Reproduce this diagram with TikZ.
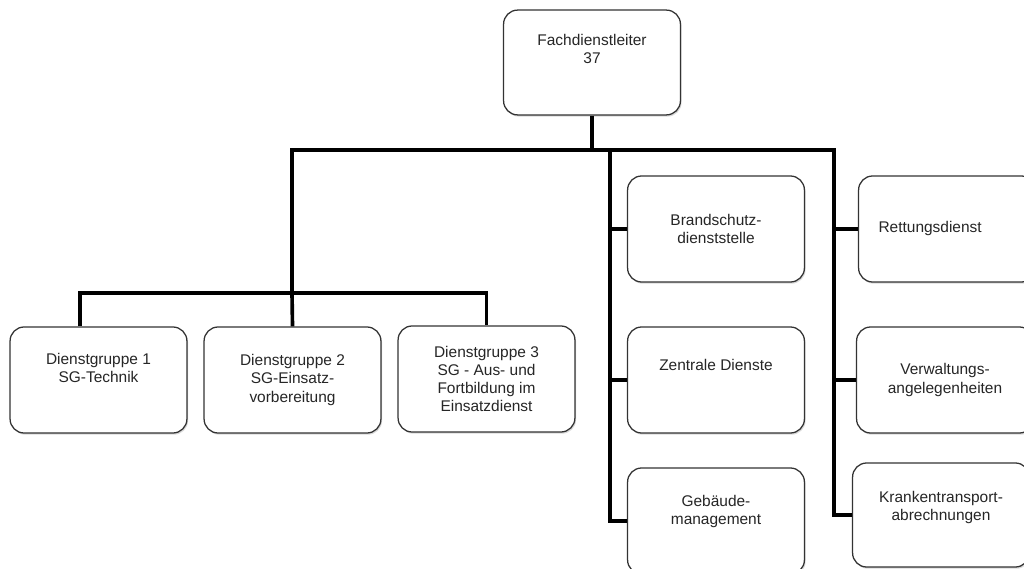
\documentclass[tikz,border=0pt]{standalone}
\usepackage{fontspec}
\setmainfont{Liberation Sans}
\usepackage{xcolor}
\usepackage{tikz}
\usetikzlibrary{shapes,positioning,shadows}

\begin{document}
\begin{tikzpicture}[
    x=0.025cm, y=-0.025cm,
    box/.style={draw=black!80, line width=0.9pt, rounded corners=10pt, fill=white,
        minimum width=4.42cm, minimum height=2.65cm, align=center, text=black!85,
        font=\fontsize{11}{13}\selectfont,
        drop shadow={shadow xshift=0.8pt, shadow yshift=-1.2pt, opacity=0.3}},
    conn/.style={line width=2.6pt, black}
]
    \useasboundingbox[fill=white] (0,0) rectangle (1024,569);

    % Head
    \node[box, minimum height=2.62cm, text depth=19pt] (leiter) at (592,62.5) {Fachdienstleiter\\37};

    % Dienstgruppen
    \node[box, text depth=17pt] (dg1) at (98.5,380) {Dienstgruppe 1\\SG-Technik};
    \node[box] (dg2) at (292.5,380) {Dienstgruppe 2\\SG-Einsatz-\\vorbereitung};
    \node[box] (dg3) at (486.5,379) {Dienstgruppe 3\\SG - Aus- und\\Fortbildung im\\Einsatzdienst};

    % Middle column
    \node[box] (brand) at (716,229) {Brandschutz-\\dienststelle};
    \node[box, text depth=21pt] (zentral) at (716,380) {Zentrale Dienste};
    \node[box, text depth=16pt] (gebaeude) at (716,521) {Gebäude-\\management};

    % Right column
    \node[box] (rettung) at (947,229) {Rettungsdienst\hspace*{24pt}};
    \node[box] (verwaltung) at (945,380) {Verwaltungs-\\angelegenheiten};
    \node[box, minimum height=2.6cm, text depth=13pt] (kranken) at (941,515) {Krankentransport-\\abrechnungen};

    % Junctions
    \coordinate (barleft) at (292,150);
    \coordinate (barright) at (834,150);
    \coordinate (midcol) at (610,150);
    \coordinate (dgbar) at (292,293);

    % Connections
    \draw[conn] (leiter.south) -- (leiter.south |- barleft);
    \draw[conn] (dgbar) -- (barleft) -- (barright) |- (kranken.west);
    \draw[conn] (midcol) |- (gebaeude.west);
    \draw[conn] (midcol |- brand.west) -- (brand.west);
    \draw[conn] (midcol |- zentral.west) -- (zentral.west);
    \draw[conn] (barright |- rettung.west) -- (rettung.west);
    \draw[conn] (barright |- verwaltung.west) -- (verwaltung.west);
    \draw[conn] ([xshift=-0.46cm]dg1.north) |- (dgbar) -| (dg3.north);
    \draw[conn] (dgbar) -- (dg2.north);
\end{tikzpicture}
\end{document}
